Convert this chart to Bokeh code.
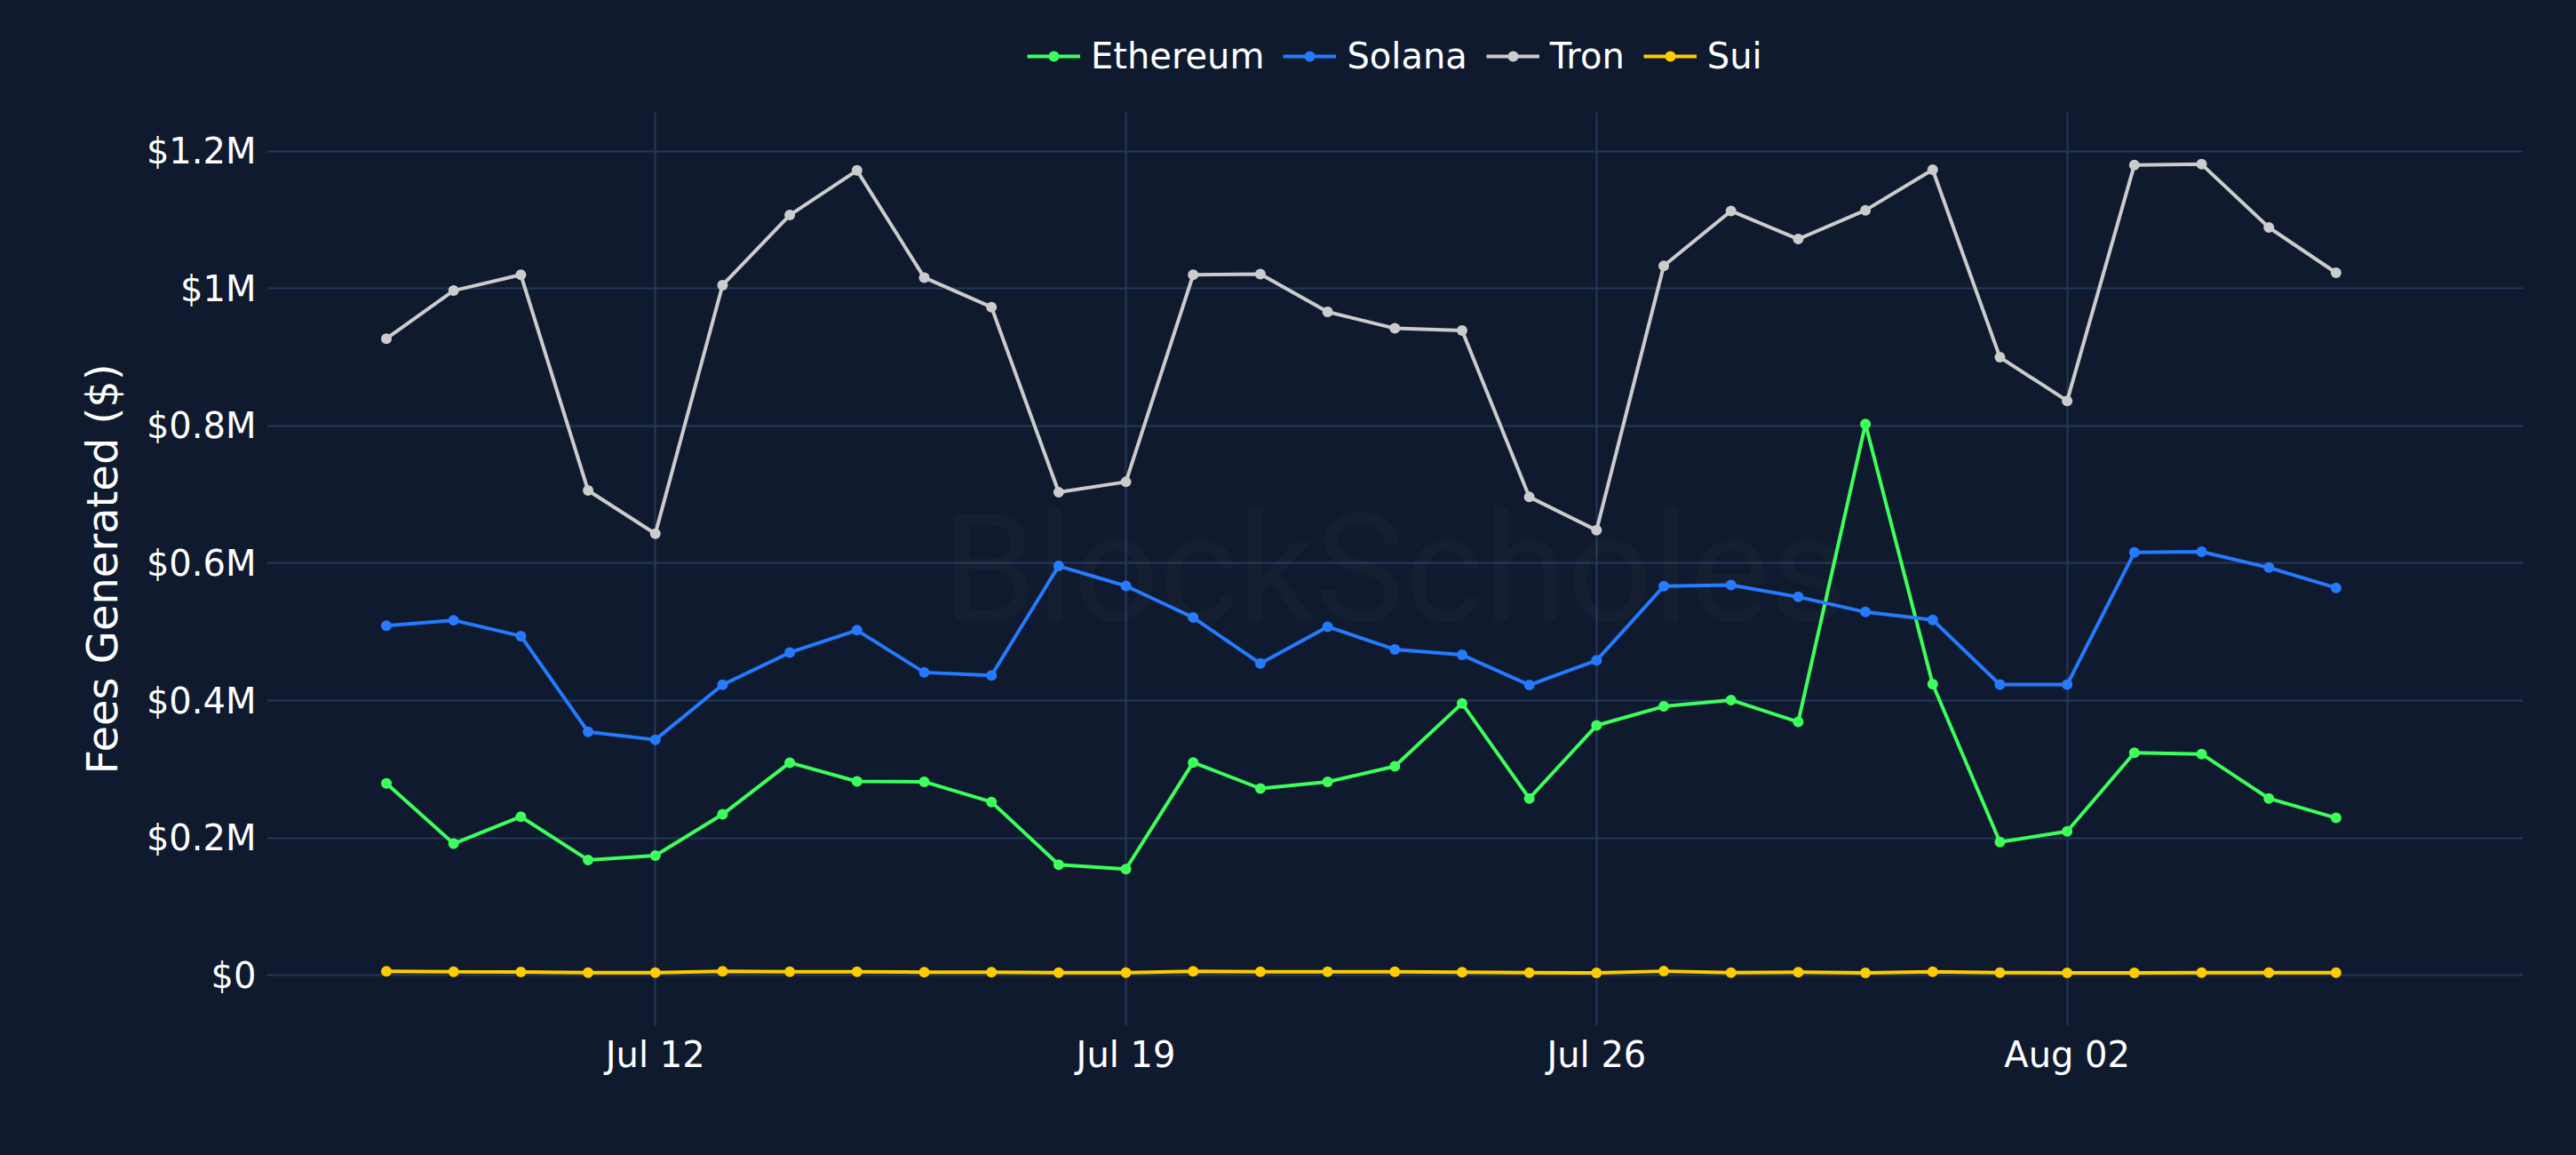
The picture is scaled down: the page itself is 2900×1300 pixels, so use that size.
import pandas as pd
from bokeh.plotting import figure
from bokeh.layouts import column
from bokeh.models import (Range1d, FixedTicker, DatetimeTickFormatter, Legend,
                          LegendItem, Label)
from bokeh.embed import file_html
from bokeh.resources import INLINE

# ---------------- data ----------------
dates = pd.date_range("2026-07-08", periods=30, freq="D")

ethereum = [279500, 191700, 231000, 168000, 174400, 234400, 309600, 282400,
            281800, 252400, 161000, 154700, 310000, 272000, 281800, 304300,
            396000, 257600, 363800, 391600, 400800, 369000, 802700, 424000,
            194000, 209600, 324000, 322200, 257600, 229200]
solana = [509000, 517000, 494000, 354600, 343000, 423000, 470000, 502500,
          441000, 436600, 596000, 567000, 521000, 454000, 507600, 474600,
          466600, 422700, 458500, 566500, 568300, 551000, 529000, 517500,
          423300, 423300, 615700, 616800, 593700, 564200]
tron = [927000, 997000, 1020000, 706000, 643000, 1005000, 1107000, 1172000,
        1016000, 973000, 703500, 718500, 1020000, 1021000, 966000, 942000,
        939000, 696500, 648000, 1033000, 1113000, 1072000, 1114000, 1173000,
        900000, 836500, 1180000, 1181000, 1089000, 1023000]
sui = [5700, 5100, 5000, 4000, 4000, 5700, 5100, 5100,
       4600, 4600, 4000, 4000, 5700, 5100, 5100, 5100,
       4600, 4000, 3500, 6000, 4000, 4600, 3500, 5100,
       4000, 3500, 3500, 4000, 4000, 4000]

series_names = ["Ethereum", "Solana", "Tron", "Sui"]
series_colors = ["#3dff5c", "#247bff", "#cccccc", "#ffcc00"]

x_ticks = ["2026-07-12", "2026-07-19", "2026-07-26", "2026-08-02"]
y_ticks = [0, 200000, 400000, 600000, 800000, 1000000, 1200000]
y_tick_labels = ["$0", "$0.2M", "$0.4M", "$0.6M", "$0.8M", "$1M", "$1.2M"]

y_label = "Fees Generated ($)"
watermark = "BlockScholes"

# ---------------- style ----------------
BG = "#101a2e"
GRID = "#24375a"
FONT = "DejaVu Sans"
LINE_W = 4
MARKER = 12

x_start = pd.Timestamp("2026-07-06 05:21")
x_end = pd.Timestamp("2026-08-08 18:47")

# ---------------- legend strip (top) ----------------
# its ranges exclude the data, so its own renderers only feed the legend
top = figure(width=2900, height=126, output_backend="svg",
             toolbar_location=None, x_axis_location=None, y_axis_location=None,
             min_border=0, background_fill_color=BG, border_fill_color=None,
             x_range=Range1d(0, 1), y_range=Range1d(0, 1))
top.outline_line_color = None
top.grid.visible = False
top.styles = {"background-color": BG}

# ---------------- main chart ----------------
p = figure(width=2900, height=1174, x_axis_type="datetime",
           output_backend="svg", toolbar_location=None,
           x_range=Range1d(x_start, x_end),
           y_range=Range1d(-73400, 1256500),
           min_border_left=300, min_border_right=60,
           min_border_top=0, min_border_bottom=146,
           background_fill_color=BG, border_fill_color=None)
p.outline_line_color = None
p.styles = {"background-color": BG}

wm = Label(x=1270, y=514, x_units="screen", y_units="screen", text=watermark,
           text_align="center", text_baseline="middle", text_font="Roboto",
           text_font_size="170px", text_color="#ffffff", text_alpha=0.022)
p.add_layout(wm)

items = []
for name, color, vals in zip(series_names, series_colors,
                             [ethereum, solana, tron, sui]):
    p.line(dates, vals, line_color=color, line_width=LINE_W)
    p.scatter(dates, vals, size=MARKER, fill_color=color, line_color=None)
    # legend glyphs in the top strip (their point lies outside its ranges)
    l1 = top.line(dates[:1], vals[:1], line_color=color, line_width=LINE_W)
    l2 = top.scatter(dates[:1], vals[:1], size=MARKER, fill_color=color,
                     line_color=None)
    items.append(LegendItem(label=name, renderers=[l1, l2]))

# axes
p.xaxis.ticker = FixedTicker(ticks=[pd.Timestamp(t).value // 10**6 for t in x_ticks])
fmt = "%b %d"
p.xaxis.formatter = DatetimeTickFormatter(days=fmt, months=fmt, hours=fmt,
                                          years=fmt, hourmin=fmt, minutes=fmt)
p.yaxis.ticker = FixedTicker(ticks=y_ticks)
p.yaxis.major_label_overrides = dict(zip(y_ticks, y_tick_labels))

for ax in (p.xaxis[0], p.yaxis[0]):
    ax.axis_line_color = None
    ax.major_tick_line_color = None
    ax.minor_tick_line_color = None
    ax.major_tick_out = 0
    ax.major_tick_in = 0
    ax.minor_tick_out = 0
    ax.major_label_text_color = "#ffffff"
    ax.major_label_text_font = FONT
    ax.major_label_text_font_size = "40px"
p.xaxis.major_label_standoff = 9
p.yaxis.major_label_standoff = 12

p.yaxis.axis_label = y_label
p.yaxis.axis_label_text_font = FONT
p.yaxis.axis_label_text_font_size = "48px"
p.yaxis.axis_label_text_font_style = "normal"
p.yaxis.axis_label_text_color = "#ffffff"
p.yaxis.axis_label_standoff = 19

p.xgrid.grid_line_color = GRID
p.xgrid.grid_line_width = 2
p.ygrid.grid_line_color = GRID
p.ygrid.grid_line_width = 2

# the top strip's frame is aligned with the main frame (left edge at x=300)
legend = Legend(items=items, orientation="horizontal", location=(856, 40),
                padding=0, spacing=21, glyph_width=60, glyph_height=30,
                label_standoff=12, label_text_font_size="40px",
                label_text_color="#ffffff", label_text_font=FONT,
                background_fill_alpha=0, border_line_alpha=0, margin=0)
top.add_layout(legend)

layout = column(top, p, spacing=0)
layout.styles = {"background-color": BG}

open("out.html", "w").write(file_html(layout, INLINE))
